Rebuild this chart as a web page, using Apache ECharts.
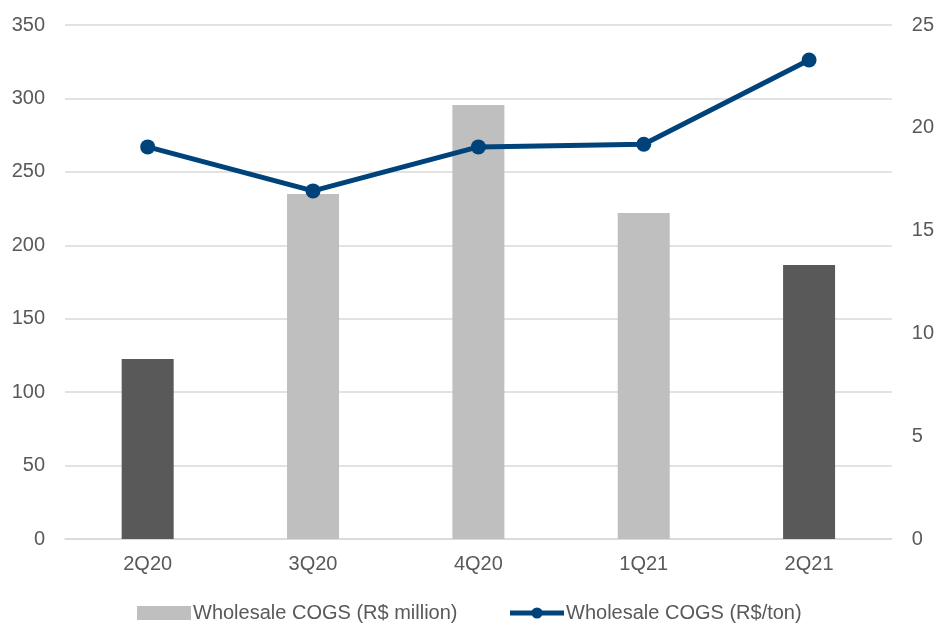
<!DOCTYPE html>
<html><head><meta charset="utf-8">
<script src="https://cdn.jsdelivr.net/npm/echarts@6/dist/echarts.min.js"></script>
<style>html,body{margin:0;padding:0;background:#fff}#c{width:937px;height:623px}</style>
</head><body><div id="c"></div>
<script>
const categories = ['2Q20','3Q20','4Q20','1Q21','2Q21'];
const cogsMillion = [122.5, 235, 295.5, 222, 186.5];
const cogsPerTon = [19.07, 16.93, 19.07, 19.2, 23.3];
const barColors = ['#595959','#bfbfbf','#bfbfbf','#bfbfbf','#595959'];
const leftTicks = [0,50,100,150,200,250,300,350];
const rightTicks = [0,5,10,15,20,25];

const font = 'Liberation Sans, Arial, sans-serif';
const chart = echarts.init(document.getElementById('c'));
chart.setOption({
  animation:false,
  textStyle:{fontFamily:font},
  grid:{left:65,right:40,top:25,bottom:84},
  legend:{
    left:132, top:598, itemGap:50, itemWidth:54, itemHeight:14,
    textStyle:{color:'#595959',fontSize:20,fontFamily:font,padding:[0,0,0,-3]},
    data:[{name:'Wholesale COGS (R$ million)',icon:'rect',itemStyle:{color:'#bfbfbf'}},
          {name:'Wholesale COGS (R$/ton)',lineStyle:{width:5,color:'#00437a'},itemStyle:{color:'#00437a'}}]
  },
  xAxis:{type:'category',data:categories,
    axisLine:{lineStyle:{color:'#d9d9d9',width:1.5}},axisTick:{show:false},
    axisLabel:{color:'#595959',fontSize:20,margin:15}},
  yAxis:[
    {type:'value',min:0,max:350,interval:50,
     axisLabel:{color:'#595959',fontSize:20,margin:20,formatter:v=>leftTicks.includes(v)?String(v):''},
     axisLine:{show:false},axisTick:{show:false},
     splitLine:{lineStyle:{color:'#d9d9d9',width:1.5}}},
    {type:'value',min:0,max:25,interval:5,position:'right',
     axisLabel:{color:'#595959',fontSize:20,margin:20,align:'left',formatter:v=>rightTicks.includes(v)?String(v):''},
     axisLine:{show:false},axisTick:{show:false},splitLine:{show:false}}
  ],
  series:[
    {name:'Wholesale COGS (R$ million)',type:'bar',barWidth:52,
     data:cogsMillion.map((v,i)=>({value:v,itemStyle:{color:barColors[i]}})),
     itemStyle:{color:'#bfbfbf'}},
    {name:'Wholesale COGS (R$/ton)',type:'line',yAxisIndex:1,data:cogsPerTon,
     symbol:'circle',symbolSize:15,
     lineStyle:{color:'#00437a',width:5},itemStyle:{color:'#00437a'}}
  ]
});
</script></body></html>
